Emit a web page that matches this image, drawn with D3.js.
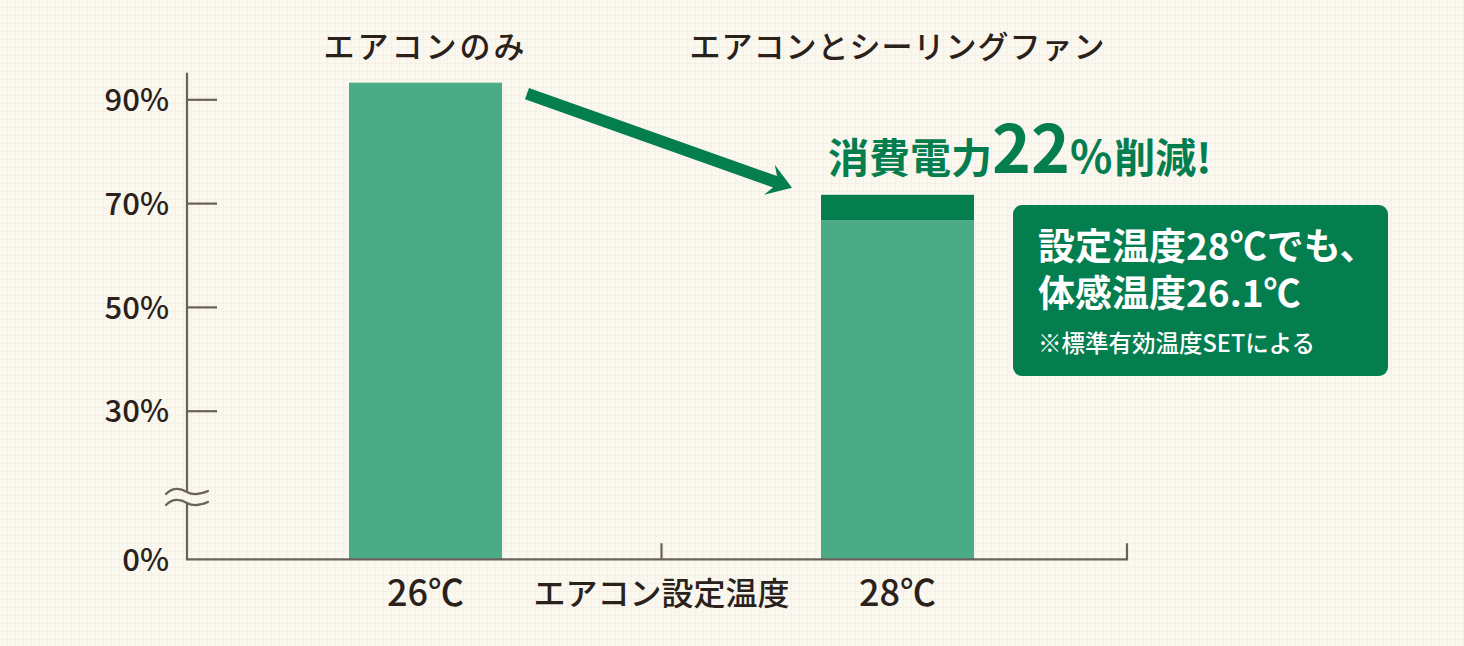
<!DOCTYPE html>
<html><head><meta charset="utf-8">
<script src="https://cdn.jsdelivr.net/npm/d3@7"></script>
<style>
html,body{margin:0;padding:0;background:#faf7ee;}
svg{display:block;font-family:"Noto Sans CJK JP","Noto Sans",sans-serif;}
</style></head>
<body>
<svg id="chart" width="1464" height="646"></svg>
<script>
// ---- data ----
const categories = ["26℃", "28℃"];
const topLabels = ["エアコンのみ", "エアコンとシーリングファン"];
const baseValues = [93.2, 66.7];     // light green part (%)
const extraValues = [0, 4.9];        // dark green cap (%)
const yTicks = [90, 70, 50, 30, 0];
const xAxisTitle = "エアコン設定温度";
const headlineParts = ["消費電力", "22", "%", "削減!"];
const calloutLines = ["設定温度28℃でも、", "体感温度26.1℃", "※標準有効温度SETによる"];

// ---- layout ----
const W = 1464, H = 646;
const svg = d3.select("#chart");
const light = "#4bab87", dark = "#047d4f", ink = "#2a211b", axisCol = "#6a615a";

// background grid
const defs = svg.append("defs");
const pat = defs.append("pattern").attr("id","grid").attr("width",8).attr("height",8)
  .attr("patternUnits","userSpaceOnUse");
pat.append("rect").attr("width",8).attr("height",8).attr("fill","#faf7ee");
pat.append("path").attr("d","M8 0V8M0 8H8").attr("stroke","#f1ecdf").attr("stroke-width",1.2).attr("fill","none");
svg.append("rect").attr("width",W).attr("height",H).attr("fill","url(#grid)");

// scales (polylinear y with compressed break below 30%)
const y = d3.scaleLinear().domain([0, 30, 90]).range([559.3, 410.7, 99.3]);
const x = d3.scalePoint().domain(categories).range([425.5, 897.5]);
const bw = 153;
const axisX = 187, axisTop = 72.7, axisRight = 1127;

// bars
const g = svg.append("g");
g.selectAll("rect.base").data(categories).join("rect").attr("class","base")
  .attr("x", d => x(d) - bw/2).attr("width", bw)
  .attr("y", (d,i) => y(baseValues[i])).attr("height", (d,i) => y(0) - y(baseValues[i]))
  .attr("fill", light);
g.selectAll("rect.extra").data(categories).join("rect").attr("class","extra")
  .attr("x", d => x(d) - bw/2).attr("width", bw)
  .attr("y", (d,i) => y(baseValues[i] + extraValues[i]))
  .attr("height", (d,i) => y(baseValues[i]) - y(baseValues[i] + extraValues[i]))
  .attr("fill", dark);

// y axis with ticks pointing right
const yAxis = d3.axisLeft(y).tickValues(yTicks).tickFormat(d => d + "%")
  .tickSizeInner(-30).tickSizeOuter(0).tickPadding(18);
const ya = svg.append("g").attr("transform", `translate(${axisX},0)`).call(yAxis);
ya.select(".domain").remove();
ya.selectAll(".tick line").attr("stroke", axisCol).attr("stroke-width", 2.2)
  .attr("display", d => d === 0 ? "none" : null);
ya.selectAll(".tick text").attr("fill", ink).attr("font-size", 31).attr("font-weight", 500)
  .attr("font-family", "'Noto Sans CJK JP', sans-serif").attr("dy", "0.36em");

// axis lines with break
const brk1 = 492, brk2 = 503;
svg.append("path").attr("fill","none").attr("stroke",axisCol).attr("stroke-width",2.2)
  .attr("d", `M${axisX},${axisTop}V${brk1}M${axisX},${brk2}V${y(0)}H${axisRight}V${y(0)-16}M${(x(categories[0])+x(categories[1]))/2},${y(0)}V${y(0)-16}`);
[brk1, brk2].forEach(b => {
  svg.append("path").attr("fill","none").attr("stroke",axisCol).attr("stroke-width",2.2)
    .attr("stroke-linecap","round")
    .attr("d", `M${axisX-21},${b+2} C${axisX-14},${b-5} ${axisX-7},${b-4} ${axisX},${b} S${axisX+14},${b+2} ${axisX+21},${b-1}`);
});

// category labels
svg.selectAll("text.cat").data(categories).join("text").attr("class","cat")
  .attr("x", d => x(d)).attr("y", 606).attr("text-anchor","middle")
  .attr("font-size", 36).attr("font-weight", 500).attr("fill", ink).text(d => d);
svg.append("text").attr("x", (x(categories[0])+x(categories[1]))/2).attr("y", 605)
  .attr("text-anchor","middle").attr("font-size", 32).attr("font-weight", 500).attr("fill", ink)
  .text(xAxisTitle);

// top labels
svg.selectAll("text.top").data(topLabels).join("text").attr("class","top")
  .attr("x", (d,i) => x(categories[i])).attr("y", 58).attr("text-anchor","middle")
  .attr("font-size", 31).attr("font-weight", 500).attr("letter-spacing", (d,i) => i === 0 ? 3 : 1)
  .attr("fill", ink).text(d => d);

// arrow
const v1 = baseValues[0] + extraValues[0], v2 = baseValues[1] + extraValues[1];
const s = [x(categories[0]) + bw/2 + 25, y(v1) + 11];
const t = [x(categories[1]) - bw/2 - 29, y(v2) - 7];
const len = Math.hypot(t[0]-s[0], t[1]-s[1]);
const u = [(t[0]-s[0])/len, (t[1]-s[1])/len], n = [-u[1], u[0]];
const hw = 6, hh = 16, hl = 24, notch = 6;
const P = (b, a, k) => [b[0] + u[0]*a + n[0]*k, b[1] + u[1]*a + n[1]*k];
const pts = [P(s,0,hw), P(t,-hl+notch,hw), P(t,-hl,hh), t, P(t,-hl,-hh), P(t,-hl+notch,-hw), P(s,0,-hw)];
svg.append("polygon").attr("points", pts.map(p => p.join(",")).join(" ")).attr("fill", dark);

// headline
const hx = x(categories[1]) - bw/2 + 7, hy = y(v2) - 22;
const ht = svg.append("text").attr("x", hx).attr("y", hy).attr("fill", dark).attr("font-weight", 700);
const hSizes = [41, 66, 44, 41];
headlineParts.forEach((p, i) => ht.append("tspan").attr("font-size", hSizes[i])
  .attr("dx", i === 3 ? 2 : 0).text(p));

// callout
const bx = 1013, by = 205;
svg.append("rect").attr("x", bx).attr("y", by).attr("width", 375).attr("height", 171).attr("rx", 9)
  .attr("fill", dark);
const lineY = [260, 307, 352], lineSize = [37, 37, 23.5], lineW = [700, 700, 500];
svg.selectAll("text.call").data(calloutLines).join("text").attr("class","call")
  .attr("x", bx + 25).attr("y", (d,i) => lineY[i]).attr("fill", "#ffffff")
  .attr("font-size", (d,i) => lineSize[i]).attr("font-weight", (d,i) => lineW[i]).text(d => d);
</script>
</body></html>
